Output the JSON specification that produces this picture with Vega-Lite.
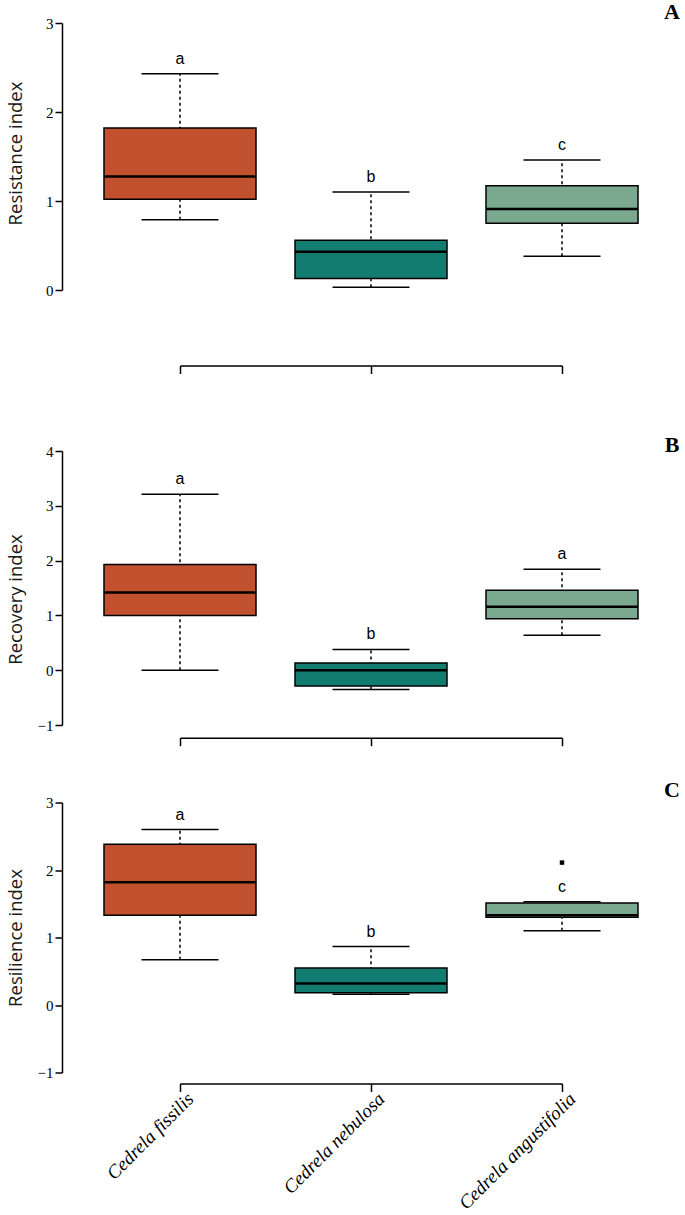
{
  "$schema": "https://vega.github.io/schema/vega-lite/v6.json",
  "background": "white",
  "padding": {"left": 6, "top": 1, "right": 0, "bottom": 0},
  "config": {
    "view": {"stroke": null},
    "axis": {"grid": false, "domainColor": "black", "domainWidth": 1.5, "tickColor": "black", "tickWidth": 1.5}
  },
  "spacing": 31.5,
  "datasets": {
    "stats": [
      {"panel": "A", "species": "Cedrela fissilis", "lower": 0.79, "q1": 1.02, "median": 1.275, "q3": 1.82, "upper": 2.43, "letter": "a"},
      {"panel": "A", "species": "Cedrela nebulosa", "lower": 0.03, "q1": 0.13, "median": 0.43, "q3": 0.56, "upper": 1.10, "letter": "b"},
      {"panel": "A", "species": "Cedrela angustifolia", "lower": 0.38, "q1": 0.75, "median": 0.91, "q3": 1.17, "upper": 1.46, "letter": "c"},
      {"panel": "B", "species": "Cedrela fissilis", "lower": 0.0, "q1": 1.0, "median": 1.42, "q3": 1.93, "upper": 3.21, "letter": "a"},
      {"panel": "B", "species": "Cedrela nebulosa", "lower": -0.35, "q1": -0.29, "median": 0.0, "q3": 0.13, "upper": 0.38, "letter": "b"},
      {"panel": "B", "species": "Cedrela angustifolia", "lower": 0.64, "q1": 0.94, "median": 1.16, "q3": 1.46, "upper": 1.84, "letter": "a"},
      {"panel": "C", "species": "Cedrela fissilis", "lower": 0.67, "q1": 1.33, "median": 1.82, "q3": 2.38, "upper": 2.60, "letter": "a"},
      {"panel": "C", "species": "Cedrela nebulosa", "lower": 0.16, "q1": 0.18, "median": 0.32, "q3": 0.55, "upper": 0.865, "letter": "b"},
      {"panel": "C", "species": "Cedrela angustifolia", "lower": 1.10, "q1": 1.30, "median": 1.33, "q3": 1.51, "upper": 1.53, "letter": "c"}
    ],
    "outliers": [
      {"panel": "C", "species": "Cedrela angustifolia", "value": 2.11}
    ]
  },
  "vconcat": [
    {
      "spacing": 58,
      "vconcat": [
        {
          "width": 382, "height": 267,
          "data": {"name": "stats"},
          "transform": [{"filter": "datum.panel === 'A'"}],
          "encoding": {
            "x": {"field": "species", "type": "nominal", "sort": ["Cedrela fissilis", "Cedrela nebulosa", "Cedrela angustifolia"], "scale": {"type": "point", "padding": 0},
                  "axis": {"orient": "bottom", "offset": 75.5, "tickSize": 8, "labels": false, "title": null}}
          },
          "layer": [
            {"mark": {"type": "rule", "strokeDash": [3, 3], "strokeWidth": 1.5, "color": "black"},
             "encoding": {
               "y": {"field": "lower", "type": "quantitative", "scale": {"domain": [0, 3], "nice": false, "zero": false},
                     "axis": {"title": "Resistance index", "values": [0, 1, 2, 3], "format": "d", "offset": 118, "tickSize": 7, "labelFont": "Liberation Serif", "labelFontSize": 15, "labelColor": "black", "labelPadding": 2,
                              "titleFont": "Open Sans", "titleFontSize": 18.5, "titleFontWeight": "normal", "titleColor": "#1a1a1a", "titleX": -47, "titleY": 130, "titleAngle": -90, "titleBaseline": "middle", "titleAlign": "center"}},
               "y2": {"field": "upper"}}},
            {"mark": {"type": "tick", "size": 77, "thickness": 1.5, "color": "black", "opacity": 1}, "encoding": {"y": {"field": "upper", "type": "quantitative"}}},
            {"mark": {"type": "tick", "size": 77, "thickness": 1.5, "color": "black", "opacity": 1}, "encoding": {"y": {"field": "lower", "type": "quantitative"}}},
            {"mark": {"type": "bar", "size": 152, "stroke": "black", "strokeWidth": 1.5, "opacity": 1},
             "encoding": {"y": {"field": "q1", "type": "quantitative"}, "y2": {"field": "q3"},
                          "fill": {"field": "species", "type": "nominal", "scale": {"domain": ["Cedrela fissilis", "Cedrela nebulosa", "Cedrela angustifolia"], "range": ["#c0502e", "#127c71", "#7aa98f"]}, "legend": null}}},
            {"mark": {"type": "tick", "size": 152, "thickness": 2.5, "color": "black", "opacity": 1}, "encoding": {"y": {"field": "median", "type": "quantitative"}}},
            {"mark": {"type": "text", "dy": -15, "font": "Liberation Sans", "fontSize": 16, "color": "black", "baseline": "middle"}, "encoding": {"y": {"field": "upper", "type": "quantitative"}, "text": {"field": "letter"}}},
            {"data": {"values": [{"panel": "A", "label": "A"}]},
             "mark": {"type": "text", "dx": 110, "font": "Liberation Serif", "fontSize": 22, "fontWeight": "bold", "color": "black", "align": "center", "baseline": "middle"},
             "encoding": {"x": {"datum": "Cedrela angustifolia", "type": "nominal"}, "y": {"datum": 3.12, "type": "quantitative"}, "text": {"field": "label"}}}
          ]
        },
        {
          "width": 382, "height": 274,
          "data": {"name": "stats"},
          "transform": [{"filter": "datum.panel === 'B'"}],
          "encoding": {
            "x": {"field": "species", "type": "nominal", "sort": ["Cedrela fissilis", "Cedrela nebulosa", "Cedrela angustifolia"], "scale": {"type": "point", "padding": 0},
                  "axis": {"orient": "bottom", "offset": 12.7, "tickSize": 8, "labels": false, "title": null}}
          },
          "layer": [
            {"mark": {"type": "rule", "strokeDash": [3, 3], "strokeWidth": 1.5, "color": "black"},
             "encoding": {
               "y": {"field": "lower", "type": "quantitative", "scale": {"domain": [-1, 4], "nice": false, "zero": false},
                     "axis": {"title": "Recovery index", "values": [-1, 0, 1, 2, 3, 4], "format": "d", "offset": 118, "tickSize": 7, "labelFont": "Liberation Serif", "labelFontSize": 15, "labelColor": "black", "labelPadding": 2,
                              "titleFont": "Open Sans", "titleFontSize": 18.5, "titleFontWeight": "normal", "titleColor": "#1a1a1a", "titleX": -47, "titleY": 148, "titleAngle": -90, "titleBaseline": "middle", "titleAlign": "center"}},
               "y2": {"field": "upper"}}},
            {"mark": {"type": "tick", "size": 77, "thickness": 1.5, "color": "black", "opacity": 1}, "encoding": {"y": {"field": "upper", "type": "quantitative"}}},
            {"mark": {"type": "tick", "size": 77, "thickness": 1.5, "color": "black", "opacity": 1}, "encoding": {"y": {"field": "lower", "type": "quantitative"}}},
            {"mark": {"type": "bar", "size": 152, "stroke": "black", "strokeWidth": 1.5, "opacity": 1},
             "encoding": {"y": {"field": "q1", "type": "quantitative"}, "y2": {"field": "q3"},
                          "fill": {"field": "species", "type": "nominal", "scale": {"domain": ["Cedrela fissilis", "Cedrela nebulosa", "Cedrela angustifolia"], "range": ["#c0502e", "#127c71", "#7aa98f"]}, "legend": null}}},
            {"mark": {"type": "tick", "size": 152, "thickness": 2.5, "color": "black", "opacity": 1}, "encoding": {"y": {"field": "median", "type": "quantitative"}}},
            {"mark": {"type": "text", "dy": -15, "font": "Liberation Sans", "fontSize": 16, "color": "black", "baseline": "middle"}, "encoding": {"y": {"field": "upper", "type": "quantitative"}, "text": {"field": "letter"}}},
            {"data": {"values": [{"panel": "B", "label": "B"}]},
             "mark": {"type": "text", "dx": 110, "font": "Liberation Serif", "fontSize": 22, "fontWeight": "bold", "color": "black", "align": "center", "baseline": "middle"},
             "encoding": {"x": {"datum": "Cedrela angustifolia", "type": "nominal"}, "y": {"datum": 4.115, "type": "quantitative"}, "text": {"field": "label"}}}
          ]
        }
      ]
    },
    {
      "width": 382, "height": 270,
      "data": {"name": "stats"},
      "transform": [{"filter": "datum.panel === 'C'"}],
      "encoding": {
        "x": {"field": "species", "type": "nominal", "sort": ["Cedrela fissilis", "Cedrela nebulosa", "Cedrela angustifolia"], "scale": {"type": "point", "padding": 0},
              "axis": {"orient": "bottom", "offset": 11, "tickSize": 8, "title": null, "labelAngle": -45, "labelAlign": "right", "labelBaseline": "middle", "labelPadding": 4, "labelOffset": 10,
                       "labelFont": "Liberation Serif", "labelFontStyle": "italic", "labelFontSize": 19, "labelColor": "black", "labelLimit": 300}}
      },
      "layer": [
        {"mark": {"type": "rule", "strokeDash": [3, 3], "strokeWidth": 1.5, "color": "black"},
         "encoding": {
           "y": {"field": "lower", "type": "quantitative", "scale": {"domain": [-1, 3], "nice": false, "zero": false},
                 "axis": {"title": "Resilience index", "values": [-1, 0, 1, 2, 3], "format": "d", "offset": 118, "tickSize": 7, "labelFont": "Liberation Serif", "labelFontSize": 15, "labelColor": "black", "labelPadding": 2,
                          "titleFont": "Open Sans", "titleFontSize": 18.5, "titleFontWeight": "normal", "titleColor": "#1a1a1a", "titleX": -47, "titleY": 135, "titleAngle": -90, "titleBaseline": "middle", "titleAlign": "center"}},
           "y2": {"field": "upper"}}},
        {"mark": {"type": "tick", "size": 77, "thickness": 1.5, "color": "black", "opacity": 1}, "encoding": {"y": {"field": "upper", "type": "quantitative"}}},
        {"mark": {"type": "tick", "size": 77, "thickness": 1.5, "color": "black", "opacity": 1}, "encoding": {"y": {"field": "lower", "type": "quantitative"}}},
        {"mark": {"type": "bar", "size": 152, "stroke": "black", "strokeWidth": 1.5, "opacity": 1},
         "encoding": {"y": {"field": "q1", "type": "quantitative"}, "y2": {"field": "q3"},
                      "fill": {"field": "species", "type": "nominal", "scale": {"domain": ["Cedrela fissilis", "Cedrela nebulosa", "Cedrela angustifolia"], "range": ["#c0502e", "#127c71", "#7aa98f"]}, "legend": null}}},
        {"mark": {"type": "tick", "size": 152, "thickness": 2.5, "color": "black", "opacity": 1}, "encoding": {"y": {"field": "median", "type": "quantitative"}}},
        {"mark": {"type": "text", "dy": -15, "font": "Liberation Sans", "fontSize": 16, "color": "black", "baseline": "middle"}, "encoding": {"y": {"field": "upper", "type": "quantitative"}, "text": {"field": "letter"}}},
        {"data": {"name": "outliers"},
         "mark": {"type": "point", "shape": "square", "filled": true, "size": 20, "color": "black", "opacity": 1},
         "encoding": {"x": {"field": "species", "type": "nominal"}, "y": {"field": "value", "type": "quantitative"}}},
        {"data": {"values": [{"panel": "C", "label": "C"}]},
         "mark": {"type": "text", "dx": 110, "font": "Liberation Serif", "fontSize": 22, "fontWeight": "bold", "color": "black", "align": "center", "baseline": "middle"},
         "encoding": {"x": {"datum": "Cedrela angustifolia", "type": "nominal"}, "y": {"datum": 3.19, "type": "quantitative"}, "text": {"field": "label"}}}
      ]
    }
  ]
}
